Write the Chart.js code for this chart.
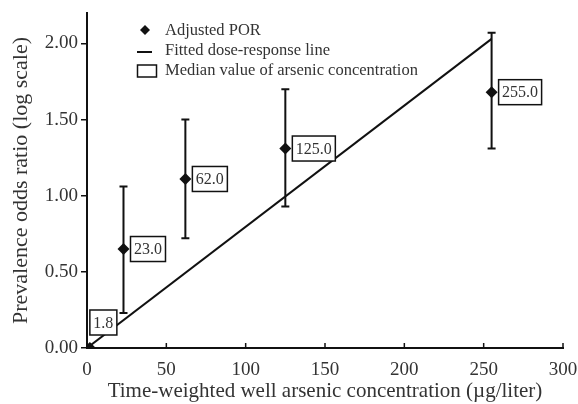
<!DOCTYPE html>
<html>
<head>
<meta charset="utf-8">
<script src="https://cdn.jsdelivr.net/npm/chart.js@4.4.1/dist/chart.umd.min.js"></script>
<style>
  html, body { margin: 0; padding: 0; background: #fff; }
  #wrap { width: 578px; height: 404px; }
</style>
</head>
<body>
<div id="wrap"><canvas id="porChart" width="578" height="404"></canvas></div>
<script>
// Data
const doseMedians = [1.8, 23.0, 62.0, 125.0, 255.0];
const medianLabels = ['1.8', '23.0', '62.0', '125.0', '255.0'];
const adjustedPOR = [0.0, 0.65, 1.11, 1.31, 1.68];
const ciLower = [0.0, 0.23, 0.72, 0.93, 1.31];
const ciUpper = [0.0, 1.06, 1.50, 1.70, 2.07];
const fitX = [0, 255];
const fitY = [0, 2.03];
const xTicks = [0, 50, 100, 150, 200, 250, 300];
const yTicks = [0, 0.5, 1.0, 1.5, 2.0];

const serif = '"Liberation Serif", "Times New Roman", serif';
const ink = '#111';

// error bars + boxed median labels + legend
const porDecor = {
    id: 'porDecor',
    afterDatasetsDraw(chart) {
        const ctx = chart.ctx;
        const xs = chart.scales.x;
        const ys = chart.scales.y;
        ctx.save();
        ctx.strokeStyle = ink;
        ctx.lineWidth = 2;
        for (let i = 0; i < doseMedians.length; i++) {
            if (ciUpper[i] === ciLower[i]) continue;
            const px = xs.getPixelForValue(doseMedians[i]);
            const top = ys.getPixelForValue(ciUpper[i]);
            const bot = ys.getPixelForValue(ciLower[i]);
            ctx.beginPath();
            ctx.moveTo(px, top); ctx.lineTo(px, bot);
            ctx.moveTo(px - 4, top); ctx.lineTo(px + 4, top);
            ctx.moveTo(px - 4, bot); ctx.lineTo(px + 4, bot);
            ctx.stroke();
        }
        // labels
        ctx.font = '16px ' + serif;
        ctx.textBaseline = 'middle';
        ctx.textAlign = 'left';
        ctx.lineWidth = 1.5;
        for (let i = 0; i < doseMedians.length; i++) {
            const px = xs.getPixelForValue(doseMedians[i]);
            const py = ys.getPixelForValue(adjustedPOR[i]);
            const w = ctx.measureText(medianLabels[i]).width + 7;
            const h = 25;
            let bx, by;
            if (i === 0) { bx = px; by = py - 13 - h; }
            else { bx = px + 7; by = py - h / 2; }
            ctx.fillStyle = '#fff';
            ctx.fillRect(bx, by, w, h);
            ctx.strokeRect(bx, by, w, h);
            ctx.fillStyle = '#333';
            ctx.fillText(medianLabels[i], bx + 3.5, by + h / 2 + 1);
        }
        // inward x tick marks
        ctx.lineWidth = 1.5;
        ctx.strokeStyle = ink;
        const base = ys.getPixelForValue(0);
        xTicks.forEach(v => {
            const px = xs.getPixelForValue(v);
            ctx.beginPath();
            ctx.moveTo(px, base); ctx.lineTo(px, base - 5);
            ctx.stroke();
        });
        ctx.restore();
    },
    afterDraw(chart) {
        const ctx = chart.ctx;
        ctx.save();
        ctx.strokeStyle = ink;
        ctx.font = '16.5px ' + serif;
        ctx.textBaseline = 'middle';
        ctx.textAlign = 'left';
        // diamond
        ctx.fillStyle = ink;
        ctx.beginPath();
        ctx.moveTo(145, 25); ctx.lineTo(150, 30); ctx.lineTo(145, 35); ctx.lineTo(140, 30);
        ctx.closePath(); ctx.fill();
        ctx.fillStyle = '#333';
        ctx.fillText('Adjusted POR', 165, 31);
        // line
        ctx.lineWidth = 2;
        ctx.beginPath(); ctx.moveTo(137, 52); ctx.lineTo(152, 52); ctx.stroke();
        ctx.fillText('Fitted dose-response line', 165, 51);
        // box
        ctx.lineWidth = 1.5;
        ctx.strokeRect(137.5, 65, 19, 12);
        ctx.fillText('Median value of arsenic concentration', 165, 71);
        ctx.restore();
    }
};

const fitPoints = fitX.map((x, i) => ({ x: x, y: fitY[i] }));
const porPoints = doseMedians.map((x, i) => ({ x: x, y: adjustedPOR[i] }));

new Chart(document.getElementById('porChart').getContext('2d'), {
    type: 'scatter',
    data: {
        datasets: [{
            label: 'Fitted dose-response line',
            data: fitPoints,
            showLine: true,
            borderColor: ink,
            borderWidth: 2,
            pointRadius: 0,
            fill: false
        }, {
            label: 'Adjusted POR',
            data: porPoints,
            pointStyle: 'rectRot',
            pointRadius: 6,
            backgroundColor: ink,
            borderColor: ink,
            borderWidth: 0
        }]
    },
    options: {
        responsive: false,
        animation: false,
        layout: { padding: { top: 13, right: 15, left: 0, bottom: 0 } },
        plugins: { legend: { display: false }, tooltip: { enabled: false } },
        scales: {
            x: {
                type: 'linear',
                min: 0,
                max: 300,
                afterFit: s => { s.height = 56; s.paddingRight = 0; s.paddingLeft = 0; },
                afterBuildTicks: s => { s.ticks = xTicks.map(v => ({ value: v })); },
                grid: { display: false },
                border: { color: ink, width: 2 },
                ticks: { color: '#333', padding: 3, font: { family: serif, size: 19 }, maxRotation: 0 },
                title: {
                    display: true,
                    text: 'Time-weighted well arsenic concentration (\u00b5g/liter)',
                    color: '#333',
                    font: { family: serif, size: 21 },
                    padding: { top: 0, bottom: 0 }
                }
            },
            y: {
                type: 'linear',
                min: 0,
                max: 2.2,
                afterFit: s => { s.width = 87; s.paddingTop = 0; s.paddingBottom = 0; },
                afterBuildTicks: s => { s.ticks = yTicks.map(v => ({ value: v })); },
                grid: { drawOnChartArea: false, color: ink, lineWidth: 1.5, tickLength: 6 },
                border: { color: ink, width: 2 },
                ticks: {
                    color: '#333',
                    padding: 3,
                    font: { family: serif, size: 19 },
                    callback: v => Number(v).toFixed(2)
                },
                title: {
                    display: true,
                    text: 'Prevalence odds ratio (log scale)',
                    color: '#333',
                    font: { family: serif, size: 22 },
                    padding: { top: 8, bottom: 0 }
                }
            }
        }
    },
    plugins: [porDecor]
});
</script>
</body>
</html>
